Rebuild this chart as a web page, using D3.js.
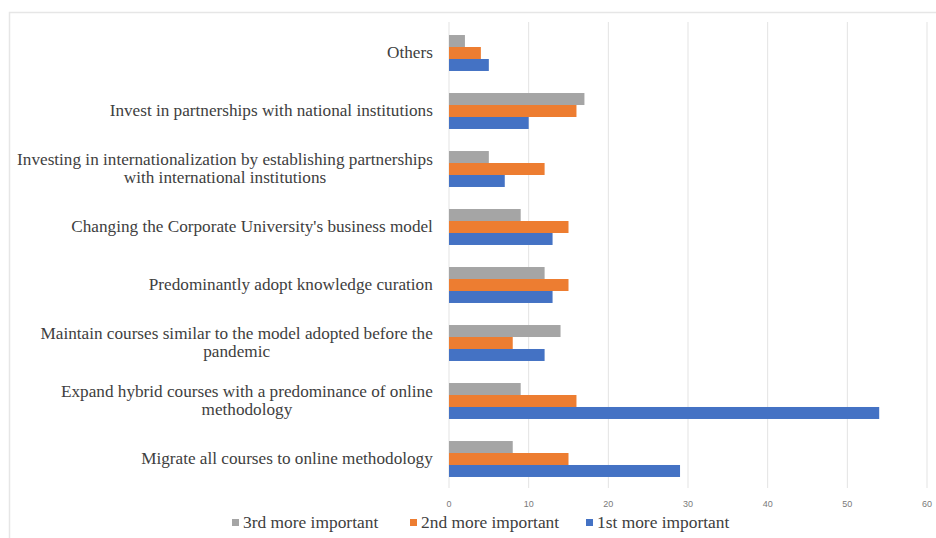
<!DOCTYPE html>
<html><head><meta charset="utf-8">
<script src="https://cdn.jsdelivr.net/npm/d3@7"></script>
<style>body{margin:0;background:#fff;}svg{display:block;}</style>
</head><body>
<svg id="c" width="936" height="538"></svg>
<script>
const categories = [
  ["Others"],
  ["Invest in partnerships with national institutions"],
  ["Investing in internationalization by establishing partnerships", "with international institutions"],
  ["Changing the Corporate University's business model"],
  ["Predominantly adopt knowledge curation"],
  ["Maintain courses similar to the model adopted before the", "pandemic"],
  ["Expand hybrid courses with a predominance of online", "methodology"],
  ["Migrate all courses to online methodology"]
];
const seriesNames = ["3rd more important", "2nd more important", "1st more important"];
const seriesColors = ["#a5a5a5", "#ed7d31", "#4472c4"];
const third  = [2, 17, 5, 9, 12, 14, 9, 8];
const second = [4, 16, 12, 15, 15, 8, 16, 15];
const first  = [5, 10, 7, 13, 13, 12, 54, 29];
const xTicks = [0, 10, 20, 30, 40, 50, 60];

const SERIF = '"Liberation Serif"';
const series = [third, second, first];
const svg = d3.select("#c");

svg.append("rect").attr("x", 9.5).attr("y", 12.5).attr("width", 940).attr("height", 540)
  .attr("fill", "none").attr("stroke", "#e6e6e6").attr("stroke-width", 1.5);

const x = d3.scaleLinear().domain([0, 60]).range([449, 927]);
const y = d3.scaleBand().domain(d3.range(categories.length)).range([24, 488]).paddingInner(0.38).paddingOuter(0.19);
const inner = d3.scaleBand().domain(d3.range(3)).range([0, y.bandwidth()]);

svg.append("g").selectAll("line").data(xTicks).join("line")
  .attr("x1", d => x(d)).attr("x2", d => x(d)).attr("y1", 22).attr("y2", 488)
  .attr("stroke", "#e3e3e3").attr("stroke-width", 1);

categories.forEach((c, i) => {
  const g = svg.append("g").attr("transform", `translate(0,${y(i)})`);
  g.selectAll("rect").data(series.map((s, k) => ({k, v: s[i]}))).join("rect")
    .attr("x", x(0)).attr("y", d => inner(d.k)).attr("width", d => x(d.v) - x(0))
    .attr("height", inner.bandwidth()).attr("fill", d => seriesColors[d.k]);
});

svg.append("g").selectAll("text").data(xTicks).join("text")
  .attr("x", d => x(d)).attr("y", 507).attr("text-anchor", "middle")
  .style("font-family", '"Liberation Sans"').style("font-size", "9px").attr("fill", "#7a7a7a")
  .text(d => d);

categories.forEach((lines, i) => {
  const cy = y(i) + y.bandwidth() / 2;
  const lh = 18;
  const t = svg.append("text").style("font-family", SERIF)
    .style("font-size", "17.2px").attr("fill", "#404040").attr("text-anchor", "middle");
  lines.forEach((ln, j) => {
    t.append("tspan").attr("x", 0).attr("y", cy + (j - (lines.length - 1) / 2) * lh + 5).text(ln);
  });
  const bb = t.node().getBBox();
  t.attr("transform", `translate(${433 - bb.width / 2},0)`);
});

const legX = [232, 410, 586];
seriesNames.forEach((n, k) => {
  svg.append("rect").attr("x", legX[k]).attr("y", 519).attr("width", 7).attr("height", 7).attr("fill", seriesColors[k]);
  svg.append("text").attr("x", legX[k] + 11).attr("y", 528).style("font-family", SERIF)
    .style("font-size", "17.4px").attr("fill", "#404040")
    .text(n);
});
</script>
</body></html>
